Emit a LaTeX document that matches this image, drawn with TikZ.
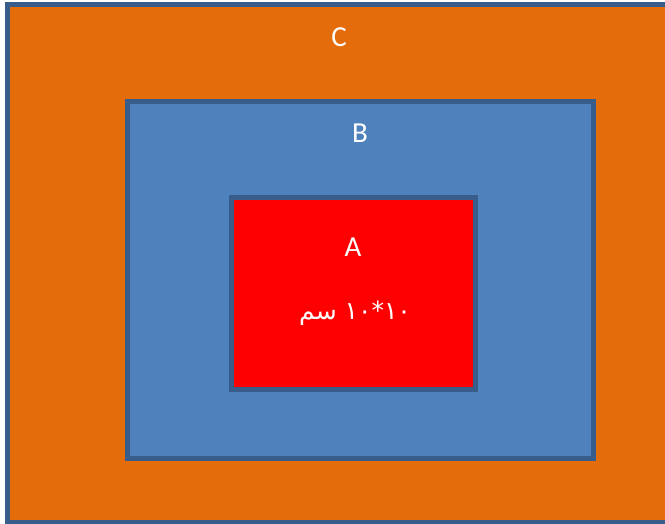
\documentclass[tikz,border=0pt]{standalone}
\usepackage{fontspec}
\setmainfont{Carlito}
\newfontfamily\arabicfont[Script=Arabic]{DejaVu Sans}
\TeXXeTstate=1
\begin{document}
\begin{tikzpicture}[x=1pt,y=-1pt,
  box/.style={draw={rgb,255:red,56;green,93;blue,138}, line width=5pt, outer sep=0pt, inner sep=0pt, anchor=north west},
  lbl/.style={text=white, font=\fontsize{29}{34}\selectfont}]
\definecolor{orng}{RGB}{228,108,10}
\definecolor{blu}{RGB}{79,129,189}
\useasboundingbox (0,0) rectangle (665,524);
\clip (0,0) rectangle (665,524);
\fill[white] (0,0) rectangle (665,524);
\node[box, fill=orng, minimum width=690pt, minimum height=517.5pt] (C) at (7.5,4.5) {};
\node[box, fill=blu, minimum width=466pt, minimum height=356.5pt] (B) at (127.5,101.5) {};
\node[box, fill=red, minimum width=244pt, minimum height=191.5pt] (A) at (231.5,197.5) {};
\node[lbl] (tC) at (339,37) {C};
\node[lbl] (tB) at (360,133) {B};
\node[lbl] (tA) at (353,247) {A};
\node[text=white, font=\arabicfont\fontsize{25}{30}\selectfont] (tdim) at (355,313) {\beginR ١٠*١٠ سم\endR};
\end{tikzpicture}
\end{document}
